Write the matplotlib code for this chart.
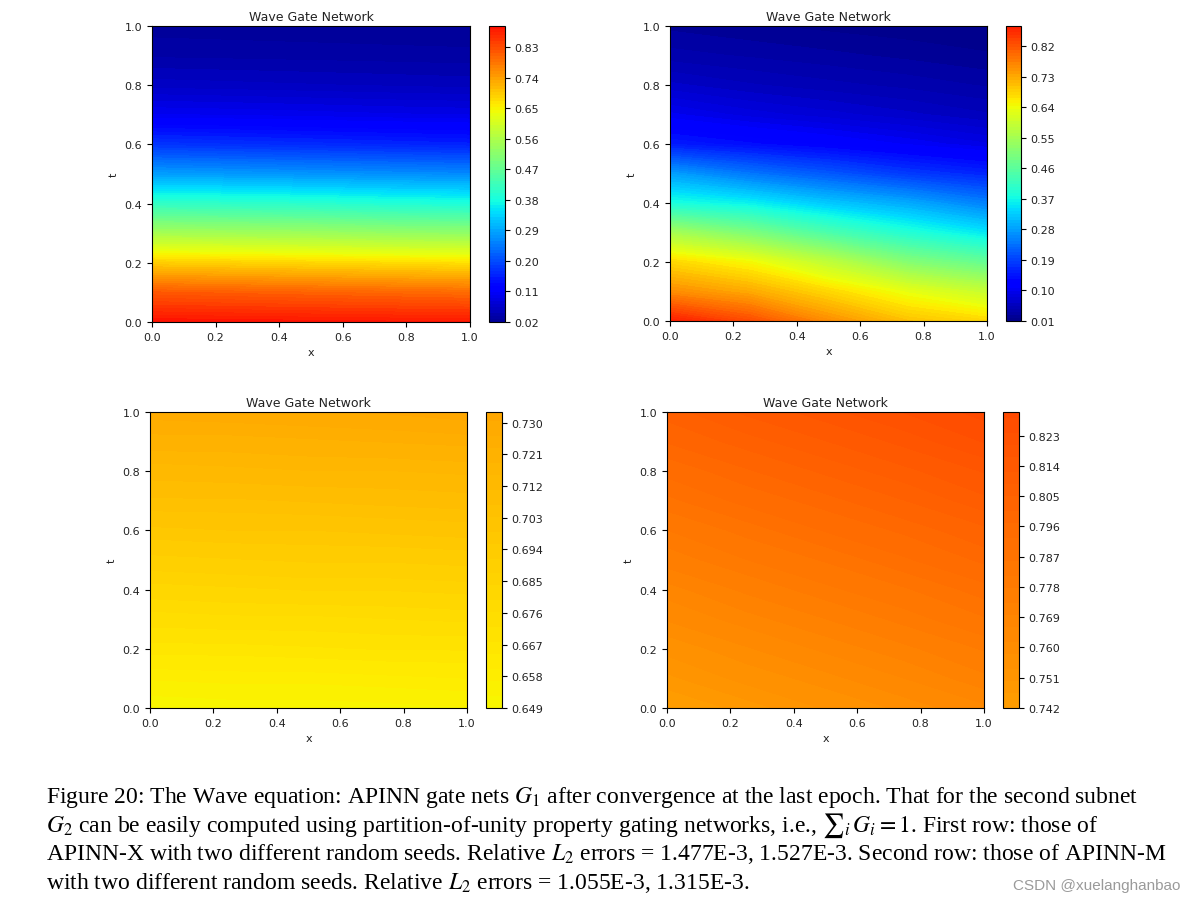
import matplotlib.pyplot as plt
import numpy as np

plt.rcParams['mathtext.fontset'] = 'stix'

# sample points of the gate fields
x_pts = [0.0, 0.25, 0.5, 0.75, 1.0]
t_pts = [0.0, 0.1, 0.2, 0.3, 0.4, 0.5, 0.6, 0.7, 0.8, 0.9, 1.0]

# APINN-X, seed 1 (rows: t, cols: x)
gate_x_seed1 = [
    [0.892, 0.890, 0.888, 0.886, 0.884],
    [0.815, 0.810, 0.805, 0.800, 0.795],
    [0.690, 0.685, 0.680, 0.675, 0.670],
    [0.550, 0.545, 0.540, 0.530, 0.525],
    [0.410, 0.405, 0.400, 0.390, 0.385],
    [0.280, 0.275, 0.270, 0.265, 0.260],
    [0.175, 0.170, 0.165, 0.160, 0.155],
    [0.100, 0.098, 0.095, 0.092, 0.090],
    [0.060, 0.058, 0.056, 0.054, 0.052],
    [0.036, 0.035, 0.034, 0.033, 0.032],
    [0.024, 0.023, 0.022, 0.021, 0.020],
]

# APINN-X, seed 2
gate_x_seed2 = [
    [0.879, 0.830, 0.760, 0.705, 0.680],
    [0.760, 0.730, 0.680, 0.630, 0.590],
    [0.680, 0.645, 0.580, 0.510, 0.470],
    [0.550, 0.500, 0.440, 0.390, 0.350],
    [0.380, 0.360, 0.320, 0.290, 0.250],
    [0.280, 0.240, 0.210, 0.180, 0.160],
    [0.150, 0.135, 0.120, 0.105, 0.090],
    [0.100, 0.085, 0.075, 0.065, 0.055],
    [0.065, 0.055, 0.048, 0.042, 0.035],
    [0.040, 0.035, 0.030, 0.025, 0.020],
    [0.025, 0.020, 0.016, 0.013, 0.010],
]

# APINN-M, seed 1
gate_m_seed1 = [
    [0.649, 0.650, 0.650, 0.651, 0.652],
    [0.657, 0.658, 0.658, 0.659, 0.660],
    [0.666, 0.666, 0.667, 0.668, 0.668],
    [0.674, 0.675, 0.675, 0.676, 0.677],
    [0.682, 0.683, 0.684, 0.684, 0.685],
    [0.690, 0.691, 0.692, 0.692, 0.693],
    [0.698, 0.699, 0.699, 0.700, 0.701],
    [0.706, 0.706, 0.707, 0.708, 0.709],
    [0.713, 0.714, 0.715, 0.715, 0.716],
    [0.721, 0.721, 0.722, 0.723, 0.724],
    [0.728, 0.729, 0.730, 0.731, 0.733],
]

# APINN-M, seed 2
gate_m_seed2 = [
    [0.742, 0.748, 0.754, 0.759, 0.765],
    [0.749, 0.755, 0.760, 0.766, 0.772],
    [0.755, 0.761, 0.767, 0.772, 0.778],
    [0.762, 0.768, 0.773, 0.779, 0.785],
    [0.768, 0.774, 0.780, 0.785, 0.791],
    [0.775, 0.781, 0.786, 0.792, 0.798],
    [0.781, 0.787, 0.793, 0.798, 0.804],
    [0.788, 0.794, 0.799, 0.805, 0.811],
    [0.794, 0.800, 0.806, 0.811, 0.817],
    [0.801, 0.807, 0.812, 0.818, 0.824],
    [0.807, 0.813, 0.819, 0.824, 0.830],
]

ticks_x_seed1 = [0.02, 0.11, 0.20, 0.29, 0.38, 0.47, 0.56, 0.65, 0.74, 0.83]
ticks_x_seed2 = [0.01, 0.10, 0.19, 0.28, 0.37, 0.46, 0.55, 0.64, 0.73, 0.82]
ticks_m_seed1 = [0.649, 0.658, 0.667, 0.676, 0.685, 0.694, 0.703, 0.712, 0.721, 0.730]
ticks_m_seed2 = [0.742, 0.751, 0.760, 0.769, 0.778, 0.787, 0.796, 0.805, 0.814, 0.823]

axis_ticks = [0.0, 0.2, 0.4, 0.6, 0.8, 1.0]

caption_lines = [
    "Figure 20: The Wave equation: APINN gate nets $G_1$ after convergence at the last epoch. That for the second subnet",
    "$G_2$ can be easily computed using partition-of-unity property gating networks, i.e., ${\\sum}_i\\, G_i = 1$. First row: those of",
    "APINN-X with two different random seeds. Relative $L_2$ errors = 1.477E-3, 1.527E-3. Second row: those of APINN-M",
    "with two different random seeds. Relative $L_2$ errors = 1.055E-3, 1.315E-3.",
]

W, H = 1195, 903
fig = plt.figure(figsize=(W / 100, H / 100), dpi=100)


def px_box(left, top, right, bottom):
    """pixel box (from top-left) -> figure fraction rect"""
    return [left / W, 1 - bottom / H, (right - left) / W, (bottom - top) / H]


panels = [
    (gate_x_seed1, ticks_x_seed1, '%.2f', (152, 27, 470, 323), (489, 27, 505, 323)),
    (gate_x_seed2, ticks_x_seed2, '%.2f', (670, 27, 987, 322), (1006, 27, 1021, 322)),
    (gate_m_seed1, ticks_m_seed1, '%.3f', (150, 413, 467, 709), (486, 413, 502, 709)),
    (gate_m_seed2, ticks_m_seed2, '%.3f', (667, 413, 984, 709), (1003, 413, 1019, 709)),
]

for field, cticks, fmt, ax_box, cb_box in panels:
    ax = fig.add_axes(px_box(*ax_box))
    z = np.array(field)
    levels = np.linspace(z.min(), z.max(), 100)
    cs = ax.contourf(x_pts, t_pts, z, levels=levels, cmap='jet', vmin=0, vmax=1)
    ax.set_title('Wave Gate Network', fontsize=9, pad=4, color='#222222')
    ax.set_xlabel('x', fontsize=8, color='#222222')
    ax.set_ylabel('t', fontsize=8, color='#222222')
    ax.set_xticks(axis_ticks)
    ax.set_yticks(axis_ticks)
    ax.tick_params(labelsize=8, labelcolor='#222222')

    cax = fig.add_axes(px_box(*cb_box))
    cb = fig.colorbar(cs, cax=cax, ticks=cticks, format=fmt)
    cb.ax.tick_params(labelsize=8, labelcolor='#222222')

# caption
baselines = [803, 832, 860, 889]
for line, yb in zip(caption_lines, baselines):
    fig.text(46 / W, 1 - yb / H, line, fontsize=17.0, family='Liberation Serif',
             ha='left', va='baseline')

fig.text(1180 / W, 1 - 890 / H, 'CSDN @xuelanghanbao', fontsize=11,
         family='Liberation Sans', color='#9a9a9a', ha='right', va='baseline')

fig.savefig('out.png', dpi=100)
